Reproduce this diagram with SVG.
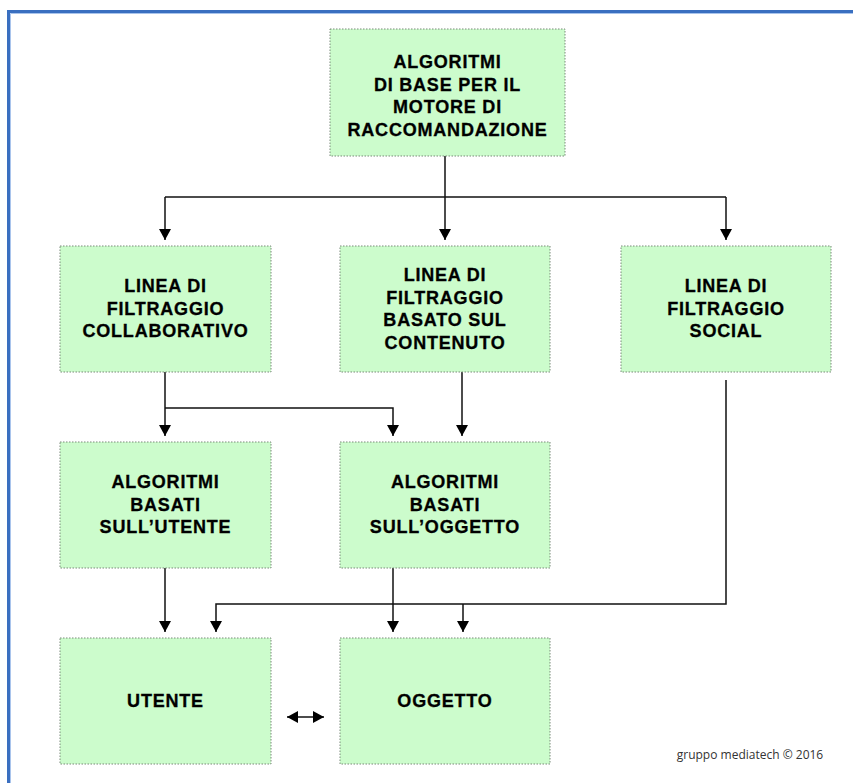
<svg xmlns="http://www.w3.org/2000/svg" width="853" height="783" viewBox="0 0 853 783">
<style>
.box{fill:#ccfccc;stroke:#7a8a7a;stroke-width:1;stroke-dasharray:1.5 1.5}
.t{font-family:"Liberation Sans",Arial,sans-serif;font-weight:bold;font-size:18px;letter-spacing:0.8px;fill:#000;stroke:#000;stroke-width:0.3;text-anchor:middle}
.c{fill:none;stroke:#111;stroke-width:1.5}
</style>
<defs>
<marker id="ah" markerUnits="userSpaceOnUse" markerWidth="12" markerHeight="12" viewBox="0 0 12 12" refX="11" refY="6" orient="auto-start-reverse">
<path d="M0,0 L11,6 L0,12 z" fill="#000"/>
</marker>
</defs>
<rect width="853" height="783" fill="#fff"/>
<g id="frame">
<path d="M8.5,783 V11.5 H853" fill="none" stroke="#3a6fc0" stroke-width="3"/>
<path d="M10.5,783 V13.5 H853" fill="none" stroke="#a9c4ec" stroke-width="1"/>
</g>
<g id="connectors">
<path class="c" d="M445,156 V197"/>
<path class="c" d="M165,197 H726"/>
<path class="c" d="M165,197 V240" marker-end="url(#ah)"/>
<path class="c" d="M445,197 V240" marker-end="url(#ah)"/>
<path class="c" d="M726,197 V240" marker-end="url(#ah)"/>
<path class="c" d="M165,372 V436" marker-end="url(#ah)"/>
<path class="c" d="M165,408 H393 V436" marker-end="url(#ah)"/>
<path class="c" d="M462,372 V436" marker-end="url(#ah)"/>
<path class="c" d="M726,380 V604 H216 V632" marker-end="url(#ah)"/>
<path class="c" d="M463,604 V632" marker-end="url(#ah)"/>
<path class="c" d="M393,568 V632" marker-end="url(#ah)"/>
<path class="c" d="M165,568 V632" marker-end="url(#ah)"/>
<path class="c" d="M287,717 H324" marker-start="url(#ah)" marker-end="url(#ah)"/>
</g>
<g id="n-root">
<rect class="box" x="330" y="29" width="235" height="127"/>
<text class="t" x="447.5" y="68">ALGORITMI</text>
<text class="t" x="447.5" y="90.5">DI BASE PER IL</text>
<text class="t" x="447.5" y="113">MOTORE DI</text>
<text class="t" x="447.5" y="135.5">RACCOMANDAZIONE</text>
</g>
<g id="n-collab">
<rect class="box" x="60" y="246" width="211" height="126"/>
<text class="t" x="165.5" y="292">LINEA DI</text>
<text class="t" x="165.5" y="314.5">FILTRAGGIO</text>
<text class="t" x="165.5" y="337">COLLABORATIVO</text>
</g>
<g id="n-contenuto">
<rect class="box" x="340" y="246" width="210" height="126"/>
<text class="t" x="445" y="281">LINEA DI</text>
<text class="t" x="445" y="303.5">FILTRAGGIO</text>
<text class="t" x="445" y="326">BASATO SUL</text>
<text class="t" x="445" y="348.5">CONTENUTO</text>
</g>
<g id="n-social">
<rect class="box" x="621" y="246" width="210" height="126"/>
<text class="t" x="726" y="292">LINEA DI</text>
<text class="t" x="726" y="314.5">FILTRAGGIO</text>
<text class="t" x="726" y="337">SOCIAL</text>
</g>
<g id="n-alg-utente">
<rect class="box" x="60" y="442" width="211" height="126"/>
<text class="t" x="165.5" y="488">ALGORITMI</text>
<text class="t" x="165.5" y="510.5">BASATI</text>
<text class="t" x="165.5" y="533">SULL’UTENTE</text>
</g>
<g id="n-alg-oggetto">
<rect class="box" x="340" y="442" width="210" height="126"/>
<text class="t" x="445" y="488">ALGORITMI</text>
<text class="t" x="445" y="510.5">BASATI</text>
<text class="t" x="445" y="533">SULL’OGGETTO</text>
</g>
<g id="n-utente">
<rect class="box" x="60" y="638" width="211" height="126"/>
<text class="t" x="165.5" y="707">UTENTE</text>
</g>
<g id="n-oggetto">
<rect class="box" x="340" y="638" width="210" height="126"/>
<text class="t" x="445" y="707">OGGETTO</text>
</g>
<text x="750" y="759" font-family="'Open Sans','Liberation Sans',sans-serif" font-size="12" fill="#333" text-anchor="middle">gruppo mediatech © 2016</text>
</svg>
